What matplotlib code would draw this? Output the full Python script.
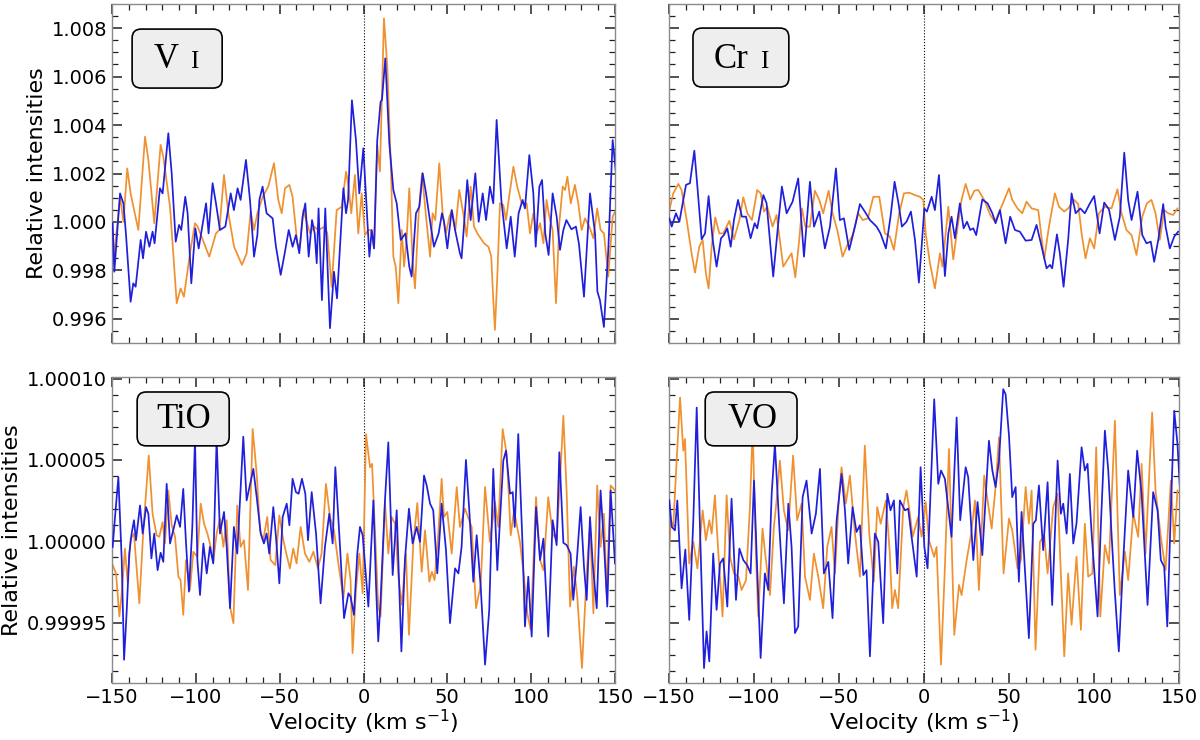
import numpy as np
import matplotlib
matplotlib.use("Agg")
import matplotlib.pyplot as plt
from matplotlib.ticker import MultipleLocator, FormatStrFormatter
from matplotlib.patches import FancyBboxPatch

# ---- data: velocity (km/s) and relative intensity ----
# V I  (offsets in units of 1e-3)
vi_v_blue = [-149.6, -148.6, -145.2, -143.2, -141.7, -138.9, -137.3, -135.9, -132.9, -131.5,
             -129.7, -127.7, -125.8, -124.6, -121.4, -119.8, -116.4, -114.4, -112.0, -110.0,
             -108.7, -106.3, -104.9, -102.7, -100.3, -98.3, -93.9, -92.4, -90.0, -88.0,
             -85.6, -82.4, -79.2, -77.3, -75.1, -73.3, -70.1, -67.7, -65.3, -63.3,
             -62.1, -60.2, -57.8, -54.2, -52.2, -49.4, -47.0, -44.6, -42.3, -40.3,
             -38.3, -36.3, -34.7, -32.7, -30.7, -29.1, -27.9, -26.8, -24.8, -22.8,
             -20.0, -17.6, -15.8, -12.0, -10.4, -9.2, -6.9, -4.5, -2.5, -0.1,
             3.5, 4.9, 6.3, 8.2, 10.2, 11.0, 13.0, 15.4, 17.8, 19.8,
             22.2, 25.0, 27.3, 28.7, 31.3, 33.3, 35.3, 37.3, 39.3, 42.0,
             44.8, 46.8, 48.0, 50.0, 52.6, 54.6, 57.5, 58.5, 61.9, 63.9,
             66.7, 68.7, 71.1, 73.1, 75.4, 77.4, 79.4, 82.2, 85.4, 87.8,
             90.2, 92.5, 94.9, 96.3, 98.9, 101.3, 102.7, 104.9, 106.5, 108.4,
             110.4, 112.8, 115.2, 117.2, 119.2, 121.0, 124.0, 126.7, 128.5, 131.5,
             135.1, 138.1, 139.5, 141.0, 143.4, 146.0, 148.6, 150.6]
vi_blue = [-0.05, -2.05, 1.18, 0.77, -0.47, -3.29, -2.53, -2.67, -0.74, -1.50,
           -0.40, -1.02, -0.40, -0.88, 1.39, 1.18, 3.66, 2.01, -0.81, -0.12,
           -0.33, 1.04, 0.36, -2.53, -0.26, -1.09, 0.77, -0.47, 1.60, 0.77,
           -0.33, -0.19, 1.18, 0.49, 1.39, 0.91, 2.56, 0.91, -1.43, -0.54,
           0.91, 1.46, 0.36, 0.15, -1.02, -2.18, -1.29, -0.33, -1.02, -0.54,
           -1.29, 0.22, 0.77, -1.43, 0.08, -0.47, -1.70, 0.56, -3.22, 0.56,
           -4.38, -2.05, -3.15, 1.39, 0.36, 0.91, 5.02, 3.38, 1.18, 3.04,
           -1.43, -0.33, -1.09, 3.38, 4.96, 5.03, 6.75, 3.24, 1.32, 0.77,
           -0.74, -0.47, -1.84, -2.25, 0.36, 0.63, 2.01, 1.18, 0.22, -1.02,
           -0.47, 0.36, 0.01, -1.09, 0.49, -0.33, -1.29, -1.50, 1.73, 0.08,
           2.01, 0.01, 1.18, 0.08, 1.46, 0.77, 4.21, 0.91, -1.09, 0.22,
           -1.43, 0.36, 0.91, 0.56, 2.76, 1.18, -1.02, 1.46, 1.73, -0.47,
           -1.36, 1.18, 0.22, -1.15, -0.33, 0.08, -0.30, -0.19, -0.90, -3.08,
           1.18, -0.47, -2.87, -3.22, -4.33, -1.15, 3.38, 2.01]
vi_v_orange = [-149.6, -149.2, -145.2, -143.2, -140.9, -138.9, -134.3, -130.3, -128.3, -124.8,
               -121.0, -119.4, -115.4, -111.4, -109.1, -107.1, -103.5, -100.5, -98.9, -92.0,
               -88.0, -86.0, -83.2, -80.6, -77.2, -72.5, -69.7, -67.3, -65.3, -63.3,
               -60.1, -56.8, -53.4, -50.8, -48.8, -46.8, -44.2, -42.3, -39.5, -37.9,
               -35.9, -31.9, -29.5, -27.0, -23.0, -21.6, -19.0, -16.0, -13.0, -10.4,
               -8.9, -7.3, -5.1, -3.1, -1.1, 0.9, 2.9, 4.3, 6.3, 8.2,
               9.8, 12.2, 14.2, 16.2, 17.8, 19.2, 20.8, 22.8, 24.2, 25.7,
               27.3, 29.3, 30.7, 32.9, 34.9, 37.3, 39.7, 41.2, 42.8, 45.2,
               47.2, 49.2, 51.2, 52.8, 54.8, 57.1, 59.5, 61.5, 63.9, 65.9,
               67.9, 71.9, 74.5, 76.2, 77.4, 78.4, 79.8, 81.4, 83.4, 85.0,
               86.6, 89.4, 91.7, 94.3, 97.3, 99.3, 101.3, 103.3, 105.3, 107.3,
               109.2, 110.8, 112.8, 114.8, 116.8, 118.8, 120.2, 121.6, 123.6, 126.1,
               128.1, 130.1, 132.1, 134.7, 137.1, 139.4, 141.4, 143.4, 146.0, 148.6,
               150.6]
vi_orange = [-0.47, -1.70, 1.04, 0.01, 2.21, 1.18, -0.33, 3.52, 2.56, -0.05,
             3.18, 2.69, 0.63, -3.35, -2.74, -3.08, -1.29, -0.05, -0.19, -1.43,
             -0.47, -0.33, 1.94, 0.36, -1.02, -1.77, -1.29, 0.43, -0.33, 0.36,
             1.04, 1.46, 2.42, 0.91, 0.36, 1.39, 1.53, 1.04, -0.88, -1.02,
             0.49, -0.47, -0.19, -0.33, -0.19, -0.47, -2.67, 0.49, 0.63, 2.08,
             1.46, 0.36, 1.94, -0.47, 1.18, -0.54, -0.33, -0.33, -1.09, 3.18,
             2.08, 8.40, 6.41, 2.56, -1.43, -1.84, -3.35, -0.33, -1.84, -0.74,
             1.39, -1.57, -2.74, 0.36, 2.01, 0.22, -1.43, 0.36, 0.08, 2.42,
             0.36, -0.47, 0.22, 0.49, -0.33, 1.32, 0.36, -0.60, 1.46, -0.19,
             -0.47, -0.88, -1.02, -1.43, -3.22, -4.45, -2.25, 0.77, 0.70, 0.08,
             0.91, 2.28, 1.46, 0.77, 0.77, -0.47, 0.36, -0.47, -0.05, -0.88,
             0.91, 0.22, -0.33, -3.35, -0.05, 1.46, 1.32, 1.87, 0.77, 1.53,
             0.77, -0.33, 0.15, -0.19, -0.67, 0.56, -0.33, -0.47, -2.25, 0.22,
             0.49]

# Cr I  (offsets in units of 1e-3)
cr_v_blue = [-149.8, -148.4, -145.9, -143.9, -140.0, -137.7, -135.1, -133.3, -130.8, -128.8,
             -126.7, -124.3, -122.0, -119.4, -117.7, -115.7, -113.7, -111.8, -109.4, -107.1,
             -104.7, -102.0, -99.6, -98.1, -94.5, -92.6, -88.7, -86.3, -83.6, -80.8,
             -77.3, -74.0, -70.6, -67.1, -64.7, -61.6, -58.3, -55.3, -51.8, -49.5,
             -47.1, -44.0, -40.6, -37.7, -34.2, -31.8, -27.9, -25.6, -22.4, -19.7,
             -17.3, -15.0, -13.0, -10.3, -7.7, -5.3, -3.0, -1.4, 0.2, 1.7,
             4.5, 6.4, 8.8, 10.8, 12.3, 14.3, 16.2, 18.2, 21.1, 23.3,
             25.3, 27.2, 29.0, 30.7, 34.3, 37.4, 40.2, 42.1, 44.7, 48.0,
             50.7, 53.5, 56.4, 59.8, 63.3, 66.2, 69.2, 72.1, 74.1, 75.4,
             78.2, 79.9, 82.1, 84.8, 86.8, 89.2, 91.9, 94.6, 97.6, 100.1,
             103.3, 106.0, 108.8, 112.3, 115.2, 117.8, 120.1, 122.1, 125.6, 128.4,
             130.9, 133.4, 135.4, 137.8, 140.7, 142.1, 144.6, 147.2, 149.5]
cr_blue = [0.15, -0.19, 0.36, 0.01, 1.53, 1.60, 2.94, 1.46, -0.71, -0.47,
           1.07, -0.74, -1.84, -0.67, -0.54, -0.26, -1.02, 0.08, 0.91, 0.22,
           0.22, -0.67, -0.05, -0.26, 1.11, 0.77, -2.25, -0.47, 1.46, 0.36,
           0.84, 1.80, -1.43, 1.66, -0.19, 0.43, -1.09, -0.19, 2.21, 0.08,
           0.15, -1.15, -0.19, 0.74, 0.36, 0.08, -0.19, -0.47, -1.09, 0.22,
           1.66, 0.77, -0.19, 0.01, 0.43, -0.74, -2.50, -1.02, 0.56, 0.43,
           1.04, 0.49, 1.94, -0.47, -2.23, -0.47, 0.22, -0.67, 0.77, -0.26,
           0.01, -0.33, -0.26, -0.54, 0.93, 0.77, 0.36, -0.05, 0.49, -0.88,
           0.22, -0.33, -0.40, -0.77, -0.74, -0.12, -1.02, -1.91, -1.77, -1.91,
           -0.51, -1.29, -2.67, -0.74, 1.18, 0.36, 0.56, 0.36, 0.77, 1.07,
           -0.47, 0.80, 0.52, -0.74, 0.22, 2.86, 0.91, 0.08, 1.25, -0.54,
           -0.88, -0.81, -1.64, -0.74, 0.74, -0.19, -1.09, -0.60, -0.40]
cr_v_orange = [-149.8, -147.5, -144.5, -142.6, -139.6, -136.7, -134.7, -132.2, -130.2, -128.3,
               -126.7, -124.9, -122.8, -120.4, -118.1, -114.5, -111.8, -108.6, -106.3, -103.9,
               -101.2, -98.1, -96.1, -94.1, -92.2, -89.1, -86.7, -84.8, -82.8, -80.4,
               -77.9, -75.7, -73.4, -71.8, -69.8, -67.1, -64.2, -61.6, -59.3, -56.1,
               -53.8, -51.0, -47.9, -45.1, -42.0, -38.7, -36.1, -33.0, -29.8, -26.3,
               -23.0, -20.1, -17.7, -14.6, -11.8, -8.7, -5.4, -2.4, -0.4, 1.0,
               3.5, 6.4, 9.4, 10.8, 14.3, 17.2, 19.8, 22.1, 24.5, 27.2,
               29.6, 31.9, 35.4, 39.0, 41.7, 44.7, 47.2, 50.0, 51.9, 55.0,
               57.8, 60.3, 63.3, 67.2, 70.7, 73.5, 77.0, 79.4, 82.5, 84.8,
               88.4, 90.7, 92.7, 95.0, 97.6, 100.1, 102.9, 106.4, 110.3, 113.8,
               116.2, 119.1, 122.1, 125.0, 128.4, 131.1, 133.8, 136.2, 138.7, 141.3,
               143.6, 146.6, 149.1]
cr_orange = [0.49, 1.18, 1.57, 1.32, 0.08, -1.29, -2.09, -1.02, -0.74, -2.12,
             -2.74, -1.02, 0.19, -0.47, -0.47, 0.05, -0.71, 0.08, 1.02, 0.36,
             0.08, 1.32, 1.18, 0.43, 0.63, -0.19, 0.29, -0.74, -1.84, -1.57,
             -1.29, -2.28, -0.74, 0.56, -0.19, -0.19, 1.29, 0.91, 0.36, 1.29,
             0.36, -0.33, -1.43, -0.95, -0.54, 0.36, 0.08, 0.15, 1.04, 1.04,
             -0.47, -0.60, -1.15, 0.36, 1.18, 1.21, 1.11, 1.04, 0.91, -0.47,
             -1.70, -2.74, -1.29, -1.84, 0.63, -1.54, -0.19, 0.91, 1.57, 0.93,
             1.29, 1.32, 0.91, 0.29, 0.01, 0.49, 0.91, 1.39, 0.91, 0.56,
             0.36, 0.84, 0.56, 0.49, -1.54, -0.19, 1.18, 0.63, 0.43, 0.56,
             0.91, 0.74, -0.47, -1.50, -0.67, -1.09, 0.36, 0.63, 0.56, 1.35,
             0.36, -0.33, -0.54, -1.36, 0.22, 0.77, 0.91, 0.36, -0.74, 0.49,
             0.36, 0.29, 0.56]

# TiO  (offsets in units of 1e-5)
tio_v_blue = [-149.6, -148.2, -146.2, -144.2, -142.8, -141.3, -139.7, -138.3, -136.9, -135.7,
              -133.3, -131.7, -129.7, -128.3, -126.5, -124.8, -122.8, -121.0, -119.4, -117.4,
              -115.4, -113.0, -111.4, -109.4, -107.5, -105.9, -104.1, -102.1, -100.5, -99.1,
              -97.5, -95.5, -93.5, -91.6, -89.6, -87.6, -85.6, -83.2, -81.6, -79.6,
              -77.3, -75.3, -71.7, -69.7, -65.7, -63.7, -61.3, -59.4, -57.8, -56.2,
              -53.8, -52.2, -50.2, -48.2, -45.8, -44.2, -42.3, -40.3, -38.7, -36.7,
              -34.7, -33.1, -30.9, -28.3, -25.6, -23.0, -20.4, -18.4, -16.8, -14.4,
              -11.6, -9.0, -7.7, -5.7, -3.7, -2.1, -0.5, 2.9, 5.9, 7.5,
              8.8, 10.2, 12.8, 14.8, 17.4, 19.8, 22.6, 24.7, 27.1, 29.3,
              31.7, 33.7, 36.1, 37.7, 39.7, 41.6, 44.0, 46.6, 49.2, 51.6,
              54.6, 56.6, 58.5, 61.1, 63.1, 65.5, 67.5, 69.9, 72.5, 75.0,
              77.4, 79.8, 81.4, 83.4, 85.0, 87.4, 89.0, 90.2, 92.3, 94.9,
              96.3, 98.3, 100.3, 102.9, 105.3, 107.3, 110.2, 112.8, 115.2, 116.8,
              119.2, 121.2, 123.5, 125.1, 127.1, 129.5, 131.5, 133.1, 135.1, 136.7,
              139.1, 141.4, 143.4, 145.4, 147.4, 150.0]
tio_blue = [-0.35, 1.49, 3.94, -1.16, -7.29, -4.43, -0.76, 0.47, 1.29, 0.06,
            2.20, 0.47, 2.10, 1.69, -1.06, 0.47, -1.78, -0.71, -1.27, 3.53,
            -0.14, 0.88, 1.59, 0.88, 3.22, -0.04, -3.10, 0.88, 6.30, -1.16,
            -3.31, -0.14, -1.98, -0.35, -1.37, 6.30, 0.47, 1.80, -0.35, -4.12,
            0.88, -0.76, 6.43, 2.51, 4.45, 2.71, 0.47, -0.14, 0.47, -0.76,
            2.10, 0.27, -2.59, 1.49, 2.31, 0.98, 3.84, 3.02, 2.92, 3.84,
            2.92, 0.06, 3.02, 0.47, -3.82, -0.35, 1.69, -0.14, 4.55, 0.37,
            -4.73, -3.20, -3.41, -4.53, -0.76, 0.88, 0.37, -4.02, 2.51, -2.80,
            -6.16, -3.61, 2.51, 6.08, -2.08, 1.90, -6.78, -1.16, 2.00, -0.14,
            0.88, -0.04, 4.04, 3.43, 2.31, 1.90, -1.98, 2.31, -0.55, -5.04,
            -1.67, -1.98, -0.35, 5.00, 1.90, -2.49, 0.37, -2.80, -7.59, -4.22,
            4.45, -1.78, 1.29, 4.96, 5.57, 2.92, 3.02, 0.88, 6.59, -0.35,
            -5.24, -2.18, -5.86, 2.10, -1.16, 0.16, -5.86, 1.29, -0.24, 5.47,
            -0.10, -0.24, -0.76, -3.61, -1.37, 2.10, -1.57, -3.61, 1.49, -1.37,
            -4.12, 3.12, -0.14, -4.02, 3.12, -1.37]
tio_v_orange = [-149.6, -147.6, -145.6, -144.0, -142.3, -140.7, -138.9, -136.9, -133.7, -131.3,
                -128.1, -125.8, -123.4, -121.8, -119.8, -118.4, -116.4, -114.4, -112.4, -110.4,
                -109.1, -107.5, -105.9, -103.5, -101.5, -99.1, -97.1, -95.1, -93.1, -91.6,
                -89.6, -87.6, -85.6, -83.6, -81.6, -79.6, -77.6, -75.3, -73.3, -71.3,
                -68.9, -66.1, -63.7, -61.7, -59.8, -57.4, -55.4, -52.6, -50.2, -47.8,
                -45.8, -43.9, -41.9, -39.9, -37.5, -34.9, -32.3, -29.9, -27.2, -25.0,
                -22.4, -20.0, -17.6, -15.0, -12.0, -9.6, -7.7, -6.5, -4.5, -2.5,
                -0.5, 1.5, 3.9, 5.1, 6.9, 8.8, 10.2, 12.8, 14.8, 16.8,
                18.8, 20.8, 22.8, 25.3, 27.1, 29.7, 32.1, 34.7, 36.7, 39.3,
                40.8, 42.4, 44.6, 46.6, 48.0, 50.0, 52.6, 55.6, 57.5, 60.5,
                64.5, 67.1, 69.9, 72.5, 75.4, 78.4, 80.4, 83.0, 85.4, 87.8,
                89.8, 93.3, 95.7, 97.7, 99.7, 102.9, 105.3, 107.3, 110.2, 112.8,
                115.2, 117.2, 119.2, 121.2, 123.2, 125.5, 127.5, 130.3, 133.1, 135.1,
                137.1, 139.4, 141.4, 143.4, 145.0, 147.4, 150.0]
tio_orange = [-1.47, -1.98, -4.63, -3.00, -0.45, -2.49, 0.16, 0.47, -3.82, 0.67,
              5.27, 1.69, 0.37, 0.27, 1.18, -0.14, 3.12, 0.98, 0.27, -2.18,
              -2.39, -4.53, -1.16, -3.00, -0.65, -0.96, 2.31, 1.08, 0.47, -0.14,
              -1.27, 0.47, 1.39, -0.35, 1.29, -4.02, -5.04, 2.20, -0.35, 0.06,
              -3.00, 6.90, 4.14, 0.67, 0.06, 1.49, -1.16, -1.47, 1.59, 0.06,
              -0.86, -1.67, -0.45, -1.37, 0.88, -0.76, -1.27, -0.65, -1.67, -0.76,
              3.53, 1.49, 0.67, -1.37, -3.51, -0.76, -2.39, -6.88, -3.00, -0.76,
              -3.20, 6.59, 4.55, 4.76, 0.47, -4.02, -4.63, 2.41, -0.76, 1.49,
              1.08, -2.18, -3.92, -0.76, -5.76, -0.14, 2.35, -1.88, 0.67, -2.49,
              -1.88, -2.39, 0.47, 3.84, 1.49, 1.80, -0.76, 3.33, 0.88, 2.00,
              0.88, -4.12, -2.69, 3.33, -0.04, 2.41, 0.88, 6.90, 5.37, 0.37,
              1.90, -0.04, -2.18, -4.43, -5.45, 2.71, -1.16, -1.78, 2.71, 0.47,
              0.06, 3.73, 7.71, 2.92, -4.02, -1.57, -3.41, -7.80, -1.98, 1.08,
              -4.43, 3.43, -0.35, 1.69, -3.20, 3.43, 3.12]

# VO  (offsets in units of 1e-5)
vo_v_blue = [-149.8, -148.4, -146.5, -145.1, -142.6, -140.4, -138.1, -135.7, -133.7, -131.8,
             -129.4, -127.9, -126.3, -124.0, -122.0, -120.0, -118.1, -115.7, -113.2, -110.6,
             -108.6, -106.3, -104.0, -102.0, -100.0, -98.1, -96.1, -93.6, -91.6, -89.6,
             -87.7, -85.1, -82.4, -79.8, -77.9, -75.9, -74.0, -71.4, -69.1, -66.1,
             -63.6, -61.2, -58.9, -56.3, -53.8, -51.4, -48.5, -46.5, -44.6, -42.0,
             -39.7, -37.7, -35.7, -33.8, -31.8, -28.9, -26.9, -24.0, -21.6, -19.7,
             -17.7, -15.7, -14.2, -11.2, -9.3, -7.3, -4.3, -2.0, 0.2, 2.1,
             6.0, 8.4, 10.0, 12.3, 16.2, 19.2, 21.3, 24.5, 26.0, 29.0,
             31.5, 34.3, 38.2, 40.2, 42.1, 44.1, 46.6, 48.0, 50.0, 51.9,
             53.9, 55.8, 57.4, 59.4, 61.7, 64.3, 65.8, 67.6, 70.1, 72.7,
             75.4, 78.6, 80.5, 81.9, 83.9, 85.8, 87.8, 89.7, 92.7, 94.6,
             96.2, 98.6, 102.1, 104.0, 106.4, 108.4, 110.3, 112.3, 114.6, 117.2,
             120.1, 123.1, 125.4, 128.0, 131.5, 134.8, 137.4, 139.3, 141.3, 143.1,
             145.2, 147.2, 149.1, 150.5]
vo_blue = [2.51, 0.88, 0.67, 2.51, -2.90, -0.51, -4.84, 1.29, 8.22, 0.88,
           -7.80, -5.55, -7.39, -0.76, -4.22, -1.37, -1.06, -4.02, 2.61, -3.61,
           -0.45, -1.16, -1.47, -1.98, 3.73, -1.78, -7.18, -1.98, -3.00, 2.92,
           5.98, 0.88, -3.82, 2.31, -0.35, -5.65, -5.24, 2.71, 3.73, 0.47,
           1.69, 4.45, -1.98, -1.27, -4.73, 1.29, 4.14, 1.90, -1.37, 2.10,
           0.57, 0.98, -2.08, -1.78, -7.08, 0.47, -0.04, -5.04, 2.92, 1.90,
           2.51, -1.98, 2.51, 1.90, 2.00, 0.27, -2.18, 4.55, -0.35, -1.67,
           8.73, 3.53, 4.35, 3.84, 0.27, 7.61, 1.29, 4.55, 3.94, -1.16,
           2.41, -0.86, 6.18, 4.35, 3.33, 4.96, 9.35, 9.04, 6.49, 2.71,
           3.33, -2.49, 1.80, -1.78, -5.96, 1.08, 1.29, 3.43, -0.55, 3.63,
           -3.92, 4.96, 1.69, 2.31, 0.47, 4.14, -0.14, 1.08, 5.78, 4.35,
           4.76, 0.47, -4.63, 0.88, 6.80, 4.35, 0.47, -3.20, -6.78, -1.16,
           4.35, 1.49, 5.57, 2.92, -3.92, 3.02, 1.90, -1.16, -1.57, -5.24,
           1.90, 8.02, 5.98, 3.33]
vo_v_orange = [-149.8, -149.0, -147.5, -145.5, -143.5, -141.6, -140.6, -138.1, -135.7, -133.3,
               -130.2, -128.3, -126.3, -124.9, -123.0, -121.0, -118.5, -116.1, -114.1, -111.8,
               -109.2, -107.3, -104.7, -102.4, -100.8, -98.9, -97.5, -95.0, -93.0, -90.6,
               -88.3, -86.7, -84.8, -82.4, -79.9, -77.0, -74.6, -72.0, -70.0, -67.1,
               -64.8, -62.2, -59.3, -56.9, -54.4, -52.4, -49.9, -48.5, -46.0, -43.6,
               -40.6, -37.7, -34.8, -32.2, -29.5, -27.5, -25.5, -22.4, -20.1, -18.7,
               -17.1, -15.2, -13.8, -12.2, -10.3, -8.3, -6.7, -3.4, -1.4, 1.0,
               2.9, 6.0, 7.4, 10.0, 12.3, 14.7, 17.8, 20.6, 22.1, 25.1,
               27.6, 30.0, 32.3, 35.4, 37.4, 39.8, 42.1, 44.1, 46.8, 50.0,
               51.9, 55.0, 57.0, 59.8, 61.7, 63.3, 65.6, 68.2, 70.7, 72.7,
               76.0, 78.6, 80.5, 82.5, 84.8, 86.8, 89.7, 92.3, 94.6, 96.6,
               99.0, 101.3, 103.7, 106.4, 108.8, 112.3, 115.2, 118.2, 120.1, 123.1,
               126.0, 128.0, 130.3, 134.2, 136.2, 139.3, 142.1, 145.2, 147.2, 149.1]
vo_orange = [-0.55, 1.29, 0.88, 4.96, 8.84, 5.57, 6.29, -1.37, -0.04, -1.67,
             1.90, 0.06, 1.29, 0.47, 2.82, -0.65, -4.63, 2.82, -0.96, -1.98,
             -2.18, -3.00, -2.39, 2.10, 7.00, -0.76, -4.63, 0.78, -1.16, -3.31,
             0.88, 2.51, 4.96, 1.90, 0.67, 5.27, 1.29, 2.31, -2.18, -3.61,
             -0.76, -2.18, -4.12, -0.35, 0.88, -1.98, 2.92, 4.55, 2.31, 4.04,
             0.47, -2.18, 5.88, 0.47, -2.49, 2.10, 1.08, 2.51, -0.76, -4.12,
             -3.00, -4.12, -1.16, 2.10, 3.12, 1.69, 0.27, 1.49, 0.27, 2.41,
             0.06, -0.96, -0.35, -7.59, -1.57, 5.67, -5.76, -2.69, -3.31, -1.16,
             0.37, 2.51, -3.00, 4.04, 2.51, 0.78, 3.33, 6.39, -1.98, 1.39,
             0.67, -1.67, -1.16, 3.33, 1.08, 3.12, -6.67, -0.04, 0.37, -1.98,
             2.10, 2.92, -1.98, -7.08, -1.98, -5.14, -0.96, -5.45, 1.08, -2.18,
             -1.98, 5.78, -4.63, -0.24, -1.37, 7.41, -3.31, -0.65, -2.39, 1.69,
             0.27, 4.76, -0.76, 7.92, 3.12, 0.27, -1.78, 3.73, -0.14, 3.12]

panels = [
    # (x blue, y blue, x orange, y orange, scale, label big, label small)
    (vi_v_blue, vi_blue, vi_v_orange, vi_orange, 1e-3, "V", "I"),
    (cr_v_blue, cr_blue, cr_v_orange, cr_orange, 1e-3, "Cr", "I"),
    (tio_v_blue, tio_blue, tio_v_orange, tio_orange, 1e-5, "TiO", ""),
    (vo_v_blue, vo_blue, vo_v_orange, vo_orange, 1e-5, "VO", ""),
]

BLUE = "#1f1fdc"
ORANGE = "#f0902e"

fig = plt.figure(figsize=(12, 7.4), dpi=100)
pos = [
    [112 / 1200, 1 - 343 / 740, 503 / 1200, 339 / 740],
    [669 / 1200, 1 - 343 / 740, 510 / 1200, 339 / 740],
    [112 / 1200, 1 - 683 / 740, 503 / 1200, 306 / 740],
    [669 / 1200, 1 - 683 / 740, 510 / 1200, 306 / 740],
]
# label box positions in axes fraction: x0, x1, y0, y1, big x, small x, baseline y
boxes = [
    (0.040, 0.219, 0.752, 0.926, 0.107, 0.163, 0.811),
    (0.047, 0.235, 0.755, 0.929, 0.122, 0.186, 0.811),
    (0.050, 0.233, 0.775, 0.951, 0.142, None, 0.833),
    (0.071, 0.251, 0.775, 0.951, 0.163, None, 0.833),
]

for i, (xb, yb, xo, yo, sc, big, small) in enumerate(panels):
    ax = fig.add_axes(pos[i])
    ax.plot(xb, 1 + sc * np.array(yb), color=BLUE, lw=1.25, zorder=3)
    ax.plot(xo, 1 + sc * np.array(yo), color=ORANGE, lw=1.25, zorder=2)
    ax.axvline(0, color="black", ls=":", lw=0.8, zorder=1)
    ax.set_xlim(-150, 150)
    ax.xaxis.set_major_locator(MultipleLocator(50))
    ax.xaxis.set_minor_locator(MultipleLocator(10))
    if i < 2:
        ax.set_ylim(0.99501, 1.00899)
        ax.yaxis.set_major_locator(MultipleLocator(0.002))
        ax.yaxis.set_minor_locator(MultipleLocator(0.0005))
        ax.yaxis.set_major_formatter(FormatStrFormatter("%.3f"))
        ax.tick_params(labelbottom=False)
    else:
        ax.set_ylim(0.9999128, 1.000101)
        ax.yaxis.set_major_locator(MultipleLocator(0.00005))
        ax.yaxis.set_minor_locator(MultipleLocator(0.00001))
        ax.yaxis.set_major_formatter(FormatStrFormatter("%.5f"))
        ax.set_xlabel("Velocity (km s$^{-1}$)", fontsize=16, labelpad=1)
    if i % 2 == 0:
        ax.set_ylabel("Relative intensities", fontsize=16, labelpad=3)
    else:
        ax.tick_params(labelleft=False)
    ax.tick_params(which="both", direction="in", top=True, right=True,
                   labelsize=14, color="#222222")
    ax.tick_params(which="major", length=7, width=1.1)
    ax.tick_params(which="minor", length=4, width=0.9)
    for s in ax.spines.values():
        s.set_color("#8a8a8a")
        s.set_linewidth(1.0)

    x0, x1, y0, y1, bx, sx, by = boxes[i]
    w_px = pos[i][2] * 1200
    h_px = pos[i][3] * 740
    box = FancyBboxPatch((x0, y0), x1 - x0, y1 - y0,
                         boxstyle="round,pad=0,rounding_size=%f" % (9 / w_px),
                         mutation_aspect=w_px / h_px,
                         transform=ax.transAxes, fc="#eeeeee", ec="black",
                         lw=1.2, zorder=5)
    ax.add_patch(box)
    ax.text(bx, by, big, transform=ax.transAxes, ha="center", va="baseline",
            fontsize=25, family="Liberation Serif", zorder=6)
    if small:
        ax.text(sx, by, small, transform=ax.transAxes, ha="center", va="baseline",
                fontsize=18, family="Liberation Serif", zorder=6)

fig.savefig("out.png", dpi=100)
